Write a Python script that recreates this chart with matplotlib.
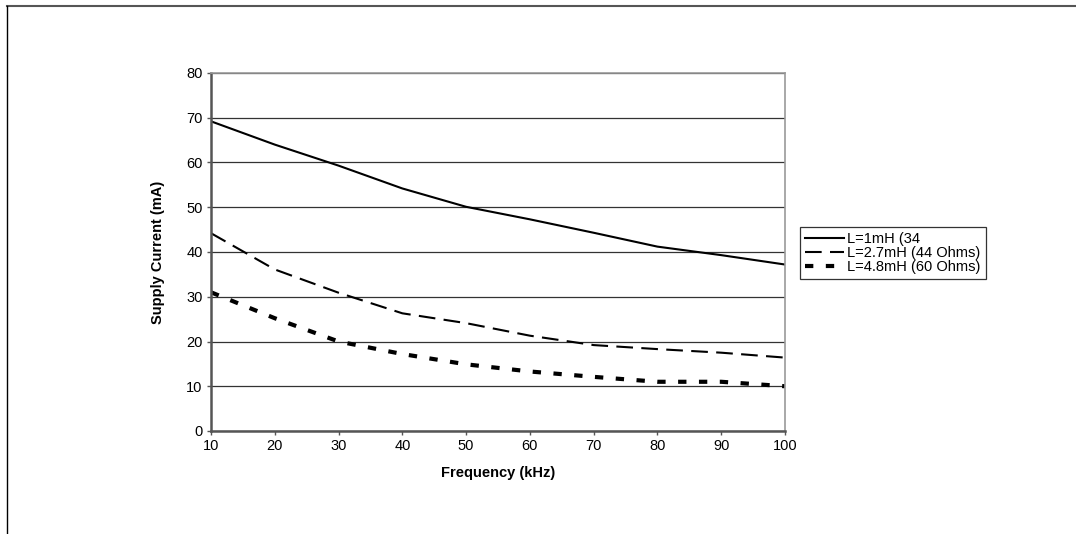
import matplotlib
matplotlib.use("Agg")
import matplotlib.pyplot as plt
from matplotlib.lines import Line2D

plt.rcParams["font.family"] = ["Liberation Sans", "DejaVu Sans"]

# --------------------------------------------------
# Data
# --------------------------------------------------
freq_khz = [10, 20, 30, 40, 50, 60, 70, 80, 90, 100]
current_1mh = [69.2, 64.0, 59.3, 54.2, 50.1, 47.3, 44.3, 41.2, 39.3, 37.2]
current_2_7mh = [44.2, 36.1, 30.9, 26.3, 24.1, 21.3, 19.2, 18.3, 17.5, 16.4]
current_4_8mh = [31.0, 25.2, 20.0, 17.2, 14.9, 13.3, 12.1, 11.0, 11.0, 10.0]

labels = ["L=1mH (34", "L=2.7mH (44 Ohms)", "L=4.8mH (60 Ohms)"]
x_ticks = [10, 20, 30, 40, 50, 60, 70, 80, 90, 100]
y_ticks = [0, 10, 20, 30, 40, 50, 60, 70, 80]

# --------------------------------------------------
# Figure
# --------------------------------------------------
fig = plt.figure(figsize=(10.76, 5.34), dpi=100)
ax = fig.add_axes([211 / 1076, 1 - 431 / 534, (785 - 211) / 1076, (431 - 73) / 534])

# outer frame lines (top and left only)
fig.add_artist(Line2D([7 / 1076, 1], [1 - 6 / 534, 1 - 6 / 534],
                      transform=fig.transFigure, color="#555555", lw=1.5))
fig.add_artist(Line2D([7 / 1076, 7 / 1076], [0, 1 - 6 / 534],
                      transform=fig.transFigure, color="black", lw=1))

ax.plot(freq_khz, current_1mh, color="black", lw=1.5, label=labels[0])
ax.plot(freq_khz, current_2_7mh, color="black", lw=1.5,
        dashes=(8, 4), label=labels[1])
ax.plot(freq_khz, current_4_8mh, color="black", lw=3,
        dashes=(2, 3), label=labels[2])

ax.set_xlim(10, 100)
ax.set_ylim(0, 80)
ax.set_xticks(x_ticks)
ax.set_yticks(y_ticks)
ax.tick_params(direction="out", length=3, width=1, color="#555555",
               labelsize=10.5, pad=3)

ax.yaxis.grid(True, color="#333333", lw=0.9)
ax.set_axisbelow(True)

for side in ["left", "bottom"]:
    ax.spines[side].set_color("#555555")
    ax.spines[side].set_linewidth(1.8)
for side in ["top", "right"]:
    ax.spines[side].set_color("#999999")
    ax.spines[side].set_linewidth(1.2)

ax.set_xlabel("Frequency (kHz)", fontsize=10.5, fontweight="bold", labelpad=9)
ax.set_ylabel("Supply Current (mA)", fontsize=10.5, fontweight="bold", labelpad=15)

leg = ax.legend(loc="center left", bbox_to_anchor=(800 / 1076, 1 - 253 / 534),
                bbox_transform=fig.transFigure, fontsize=10.5, frameon=True,
                fancybox=False, edgecolor="#333333", framealpha=1,
                labelspacing=0.0, handlelength=2.7, handletextpad=0.2,
                borderpad=0.35, borderaxespad=0)
leg.get_frame().set_linewidth(0.9)

fig.savefig("out.png", dpi=100)
